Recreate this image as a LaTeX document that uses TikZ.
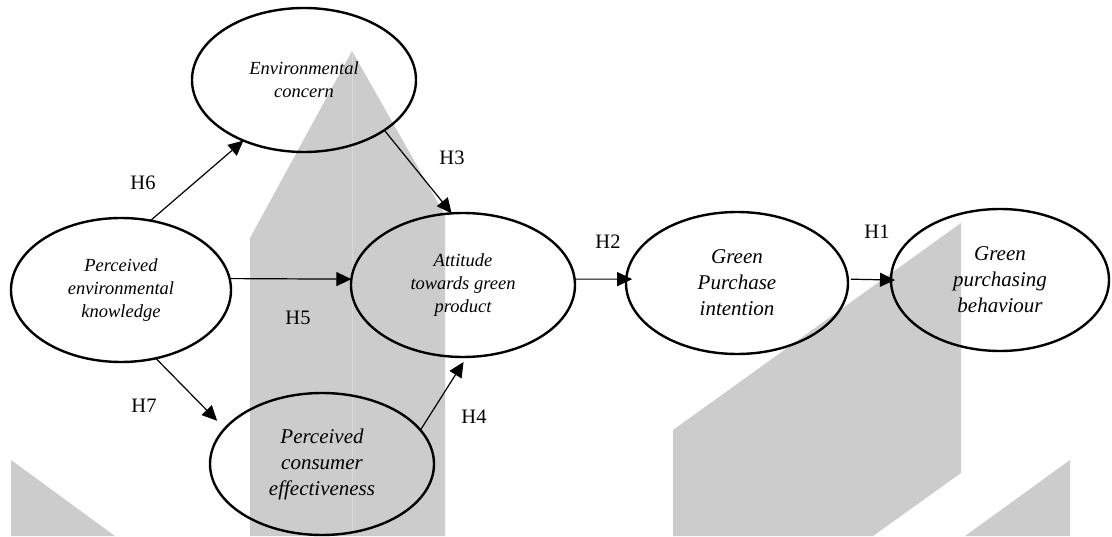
\documentclass[tikz,border=0pt]{standalone}
\usepackage{fontspec}
\setmainfont{Liberation Serif}
\usetikzlibrary{shapes.geometric,arrows.meta}
\definecolor{wmgray}{HTML}{CCCCCC}
\definecolor{wmseam}{HTML}{D9D9D9}
\tikzset{
  construct/.style={ellipse, draw, line width=2.4pt, inner sep=0pt, outer sep=0pt,
    align=center, font=\fontsize{18.5}{23}\selectfont\itshape},
  bigtext/.style={font=\fontsize{21}{26}\selectfont\itshape},
  link/.style={-{Triangle[length=15pt,width=14pt]}, line width=1.2pt},
  hlabel/.style={font=\fontsize{20.5}{24}\selectfont, inner sep=0pt},
  shade/.style={fill=wmgray, draw=none}
}
\begin{document}
\begin{tikzpicture}[x=1pt,y=1pt]
\useasboundingbox (0,0) rectangle (1112,536);

% background shapes
\path[shade] (250,0) -- (250,298) -- (352,485) -- (445,321) -- (445,0) -- cycle;
\draw[wmseam, line width=0.8pt] (352.5,482) -- (352.5,0);
\path[shade] (673,0) -- (673,106) -- (961,313) -- (961,63) -- (873,0) -- cycle;
\path[shade] (965,0) -- (1070,76) -- (1070,0) -- cycle;
\path[shade] (11,0) -- (11,76) -- (115,0) -- cycle;

% constructs
\node[construct, minimum width=224pt, minimum height=144pt] (env) at (304,456) {Environmental\\concern};
\node[construct, minimum width=220pt, minimum height=144pt] (pek) at (121,246) {Perceived\\environmental\\knowledge};
\node[construct, minimum width=224pt, minimum height=144pt] (att) at (463,251) {Attitude\\towards green\\product};
\node[construct, bigtext, minimum width=222pt, minimum height=142pt] (gpi) at (737,253) {Green\\Purchase\\intention};
\node[construct, bigtext, minimum width=218pt, minimum height=142pt] (gpb) at (1000,256) {Green\\purchasing\\behaviour};
\node[construct, bigtext, minimum width=224pt, minimum height=142pt] (pce) at (322,72) {Perceived\\consumer\\effectiveness};

% hypothesised paths
\draw[link] (pek.67) -- (env.225);
\draw[link] (env.-32) -- (att.99);
\draw[link] (pek.6) -- (att.177);
\draw[link, shorten >=11pt] (pek.-63) -- (pce.160);
\draw[link, shorten >=6pt] (pce.19) -- (att.-87);
\draw[link, shorten >=-6pt] (att.3) -- (gpi.178);
\draw[link, shorten <=3pt, shorten >=-4pt] (gpi.2) -- (gpb.180);

% hypothesis labels
\node[hlabel] (h6) at (143,353) {H6};
\node[hlabel] (h3) at (452,378) {H3};
\node[hlabel] (h5) at (298,218) {H5};
\node[hlabel] (h7) at (144,130) {H7};
\node[hlabel] (h4) at (474,119) {H4};
\node[hlabel] (h2) at (608,294) {H2};
\node[hlabel] (h1) at (877,304) {H1};
\end{tikzpicture}
\end{document}
